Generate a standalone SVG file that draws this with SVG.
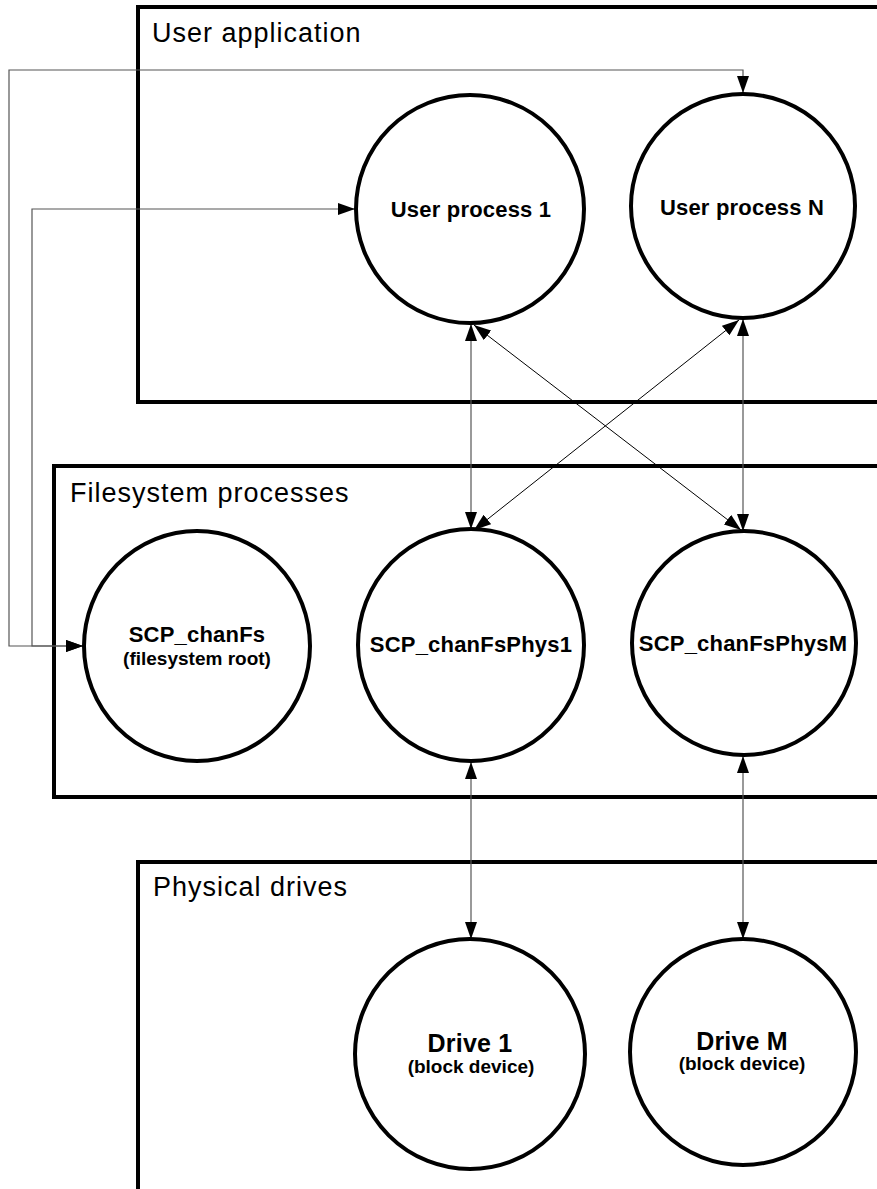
<svg xmlns="http://www.w3.org/2000/svg" width="877" height="1189" viewBox="0 0 877 1189">
<style>
.box{fill:none;stroke:#000;stroke-width:4}
.node{fill:#fff;stroke:#000;stroke-width:4}
.lbl{font-family:"Liberation Sans",Arial,sans-serif;font-size:27px;letter-spacing:1px;fill:#000}
.t{font-family:"Liberation Sans",Arial,sans-serif;font-weight:bold;font-size:22px;letter-spacing:0.2px;fill:#000;text-anchor:middle}
.s{font-family:"Liberation Sans",Arial,sans-serif;font-weight:bold;font-size:19px;fill:#000;text-anchor:middle}
.d{font-size:25px}
.c{fill:none;stroke:#555;stroke-width:1.2;marker-start:url(#ah);marker-end:url(#ah)}
.dg{stroke:#000;stroke-width:1}
</style>
<defs>
<marker id="ah" markerUnits="userSpaceOnUse" viewBox="0 0 17 12" markerWidth="17" markerHeight="12" refX="17" refY="6" orient="auto-start-reverse">
<path d="M0,0 L17,6 L0,12 z" fill="#000"/>
</marker>
</defs>
<g id="group-user-application">
<rect class="box" x="138" y="7" width="760" height="395"/>
<text class="lbl" x="152" y="42">User application</text>
</g>
<g id="group-filesystem-processes">
<rect class="box" x="54" y="466" width="844" height="331"/>
<text class="lbl" x="70" y="502">Filesystem processes</text>
</g>
<g id="group-physical-drives">
<rect class="box" x="138" y="862" width="760" height="360"/>
<text class="lbl" x="153" y="896">Physical drives</text>
</g>
<g id="connectors">
<polyline class="c" points="83,646 9,646 9,70 743,70 743,93"/>
<polyline class="c" points="83,646 32,646 32,209 355,209"/>
<line class="c" x1="471" y1="324" x2="471" y2="529"/>
<line class="c" x1="743" y1="319" x2="743" y2="531"/>
<line class="c dg" x1="474" y1="325" x2="741" y2="530"/>
<line class="c dg" x1="739" y1="320" x2="474" y2="530"/>
<line class="c" x1="471" y1="762" x2="471" y2="939"/>
<line class="c" x1="743" y1="756" x2="743" y2="939"/>
</g>
<g id="node-user-process-1">
<ellipse class="node" cx="470" cy="209" rx="114" ry="114"/>
<text class="t" x="471" y="217">User process 1</text>
</g>
<g id="node-user-process-n">
<ellipse class="node" cx="743" cy="206" rx="112" ry="112"/>
<text class="t" x="742" y="215">User process N</text>
</g>
<g id="node-scp-chanfs">
<ellipse class="node" cx="197" cy="646" rx="113" ry="115"/>
<text class="t" x="197" y="642">SCP_chanFs</text>
<text class="s" x="197" y="665">(filesystem root)</text>
</g>
<g id="node-scp-chanfsphys1">
<ellipse class="node" cx="471" cy="645" rx="113" ry="116"/>
<text class="t" x="471" y="652">SCP_chanFsPhys1</text>
</g>
<g id="node-scp-chanfsphysm">
<ellipse class="node" cx="744" cy="643" rx="112" ry="112"/>
<text class="t" x="743" y="651">SCP_chanFsPhysM</text>
</g>
<g id="node-drive-1">
<ellipse class="node" cx="470" cy="1054" rx="115" ry="115"/>
<text class="t d" x="470" y="1052">Drive 1</text>
<text class="s" x="471" y="1073">(block device)</text>
</g>
<g id="node-drive-m">
<ellipse class="node" cx="743" cy="1052" rx="113" ry="113"/>
<text class="t d" x="742" y="1050">Drive M</text>
<text class="s" x="742" y="1070">(block device)</text>
</g>
</svg>
